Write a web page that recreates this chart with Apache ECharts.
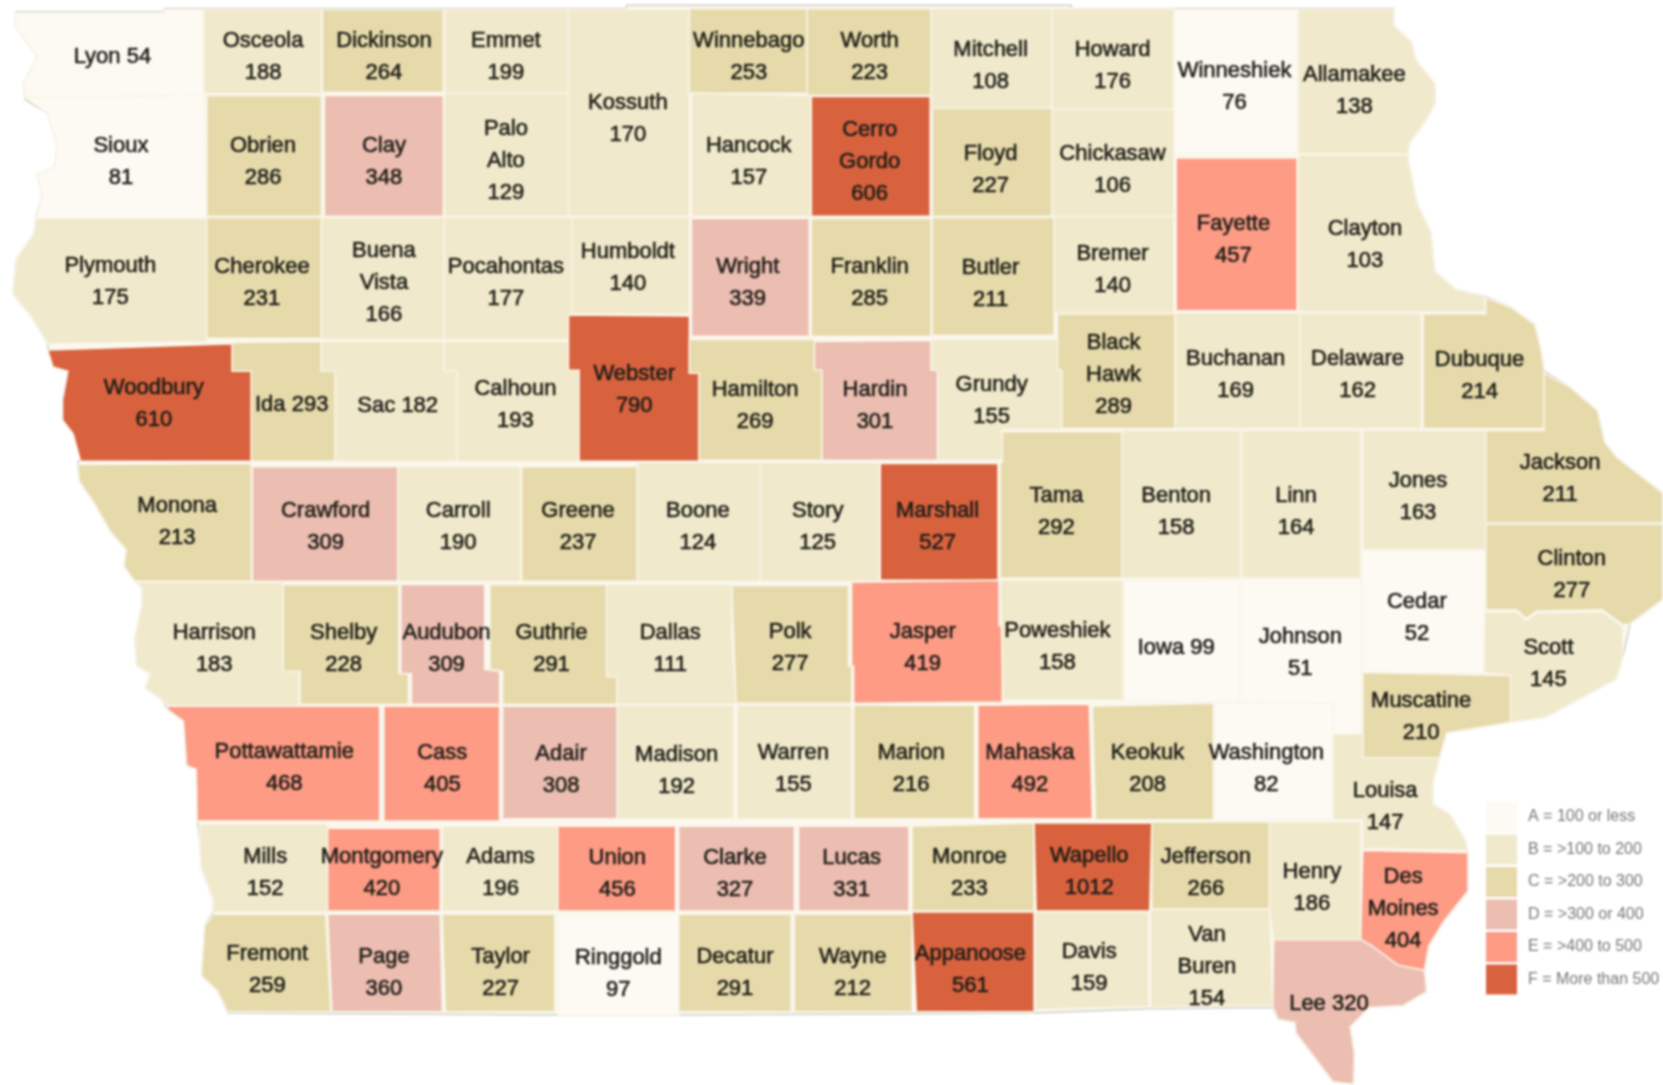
<!DOCTYPE html>
<html>
<head>
<meta charset="utf-8">
<title>Iowa counties</title>
<script src="https://cdn.jsdelivr.net/npm/echarts@6/dist/echarts.min.js"></script>
<style>
html, body { margin: 0; padding: 0; background: #fff; }
#main { width: 1663px; height: 1085px; }
/* the source picture is a soft upscaled image */
#main canvas { filter: blur(0.8px); }
</style>
</head>
<body>
<div id="main"></div>
<script>
var counties = ["Lyon","Osceola","Dickinson","Emmet","Kossuth","Winnebago","Worth","Mitchell","Howard","Winneshiek","Allamakee",
	"Sioux","Obrien","Clay","Palo Alto","Hancock","Cerro Gordo","Floyd","Chickasaw","Fayette","Clayton",
	"Plymouth","Cherokee","Buena Vista","Pocahontas","Humboldt","Wright","Franklin","Butler","Bremer","Black Hawk","Buchanan","Delaware","Dubuque",
	"Woodbury","Ida","Sac","Calhoun","Webster","Hamilton","Hardin","Grundy",
	"Monona","Crawford","Carroll","Greene","Boone","Story","Marshall","Tama","Benton","Linn","Jones","Jackson","Clinton","Cedar",
	"Harrison","Shelby","Audubon","Guthrie","Dallas","Polk","Jasper","Poweshiek","Iowa","Johnson","Scott","Muscatine",
	"Pottawattamie","Cass","Adair","Madison","Warren","Marion","Mahaska","Keokuk","Washington","Louisa",
	"Mills","Montgomery","Adams","Union","Clarke","Lucas","Monroe","Wapello","Jefferson","Henry","Des Moines",
	"Fremont","Page","Taylor","Ringgold","Decatur","Wayne","Appanoose","Davis","Van Buren","Lee"];
var countyValues = [54,188,264,199,170,253,223,108,176,76,138,
	81,286,348,129,157,606,227,106,457,103,
	175,231,166,177,140,339,285,211,140,289,169,162,214,
	610,293,182,193,790,269,301,155,
	213,309,190,237,124,125,527,292,158,164,163,211,277,52,
	183,228,309,291,111,277,419,158,99,51,145,210,
	468,405,308,192,155,216,492,208,82,147,
	152,420,196,456,327,331,233,1012,266,186,404,
	259,360,227,97,291,212,561,159,154,320];
var legendLabels = ["A = 100 or less","B = >100 to 200","C = >200 to 300","D = >300 or 400","E = >400 to 500","F = More than 500"];
var legendLimits = [100,200,300,400,500];
var legendColors = ["#fcfaf3","#f1e9cb","#e6daab","#ecbdb1","#fd9b85","#d9623e"];
// these print name and value on one line
var oneLine = ["Lyon","Ida","Sac","Iowa","Lee"];

// shapes, in 1568x1023 picture coordinates
var shapes = {
	"Lyon":[[15,12],[155,12],[155,9],[192,9],[192,90],[24,92],[22,79],[35,53],[14,24]],
	"Osceola":[[192,9],[303,9],[303,88],[192,88]],
	"Dickinson":[[304,9],[418,9],[418,87],[304,87]],
	"Emmet":[[419,9],[536,9],[536,88],[419,88]],
	"Kossuth":[[536,9],[650,9],[650,204],[536,204]],
	"Winnebago":[[650,8],[761,8],[761,88],[650,88]],
	"Worth":[[761,8],[878,8],[878,90],[761,90]],
	"Mitchell":[[878,8],[992,8],[992,102],[878,102]],
	"Howard":[[992,8],[1107,8],[1107,103],[992,103]],
	"Winneshiek":[[1107,9],[1223,9],[1223,145],[1107,145]],
	"Allamakee":[[1224,9],[1314,9],[1314,24],[1331,40],[1335,57],[1353,79],[1353,98],[1344,114],[1329,135],[1327,145],[1224,145]],
	"Sioux":[[24,92],[192,90],[195,206],[34,206],[40,185],[35,165],[52,157],[54,138],[45,107]],
	"Obrien":[[195,90],[303,90],[303,204],[195,204]],
	"Clay":[[306,90],[418,90],[418,204],[306,204]],
	"Palo Alto":[[419,88],[536,88],[536,204],[419,204]],
	"Hancock":[[652,88],[765,90],[765,204],[652,204]],
	"Cerro Gordo":[[765,91],[877,91],[877,204],[765,204]],
	"Floyd":[[879,102],[992,102],[992,204],[879,204]],
	"Chickasaw":[[992,103],[1107,103],[1107,204],[992,204]],
	"Fayette":[[1109,149],[1223,149],[1223,293],[1109,293]],
	"Clayton":[[1224,146],[1327,146],[1336,192],[1349,219],[1353,256],[1373,273],[1399,279],[1401,294],[1224,294]],
	"Plymouth":[[34,206],[195,206],[195,322],[45,324],[30,299],[12,277],[15,245],[32,220]],
	"Cherokee":[[195,205],[303,205],[303,319],[195,319]],
	"Buena Vista":[[303,205],[419,205],[419,320],[303,320]],
	"Pocahontas":[[419,205],[539,205],[539,297],[536,297],[536,320],[419,320]],
	"Humboldt":[[539,205],[650,205],[650,296],[539,296]],
	"Wright":[[652,206],[763,206],[763,317],[652,317]],
	"Franklin":[[765,206],[878,206],[878,317],[765,317]],
	"Butler":[[879,205],[994,205],[994,316],[879,316]],
	"Bremer":[[994,204],[1107,204],[1107,295],[994,295]],
	"Black Hawk":[[997,296],[1108,296],[1108,404],[1001,404],[1001,349],[997,349]],
	"Buchanan":[[1108,295],[1226,295],[1226,404],[1108,404]],
	"Delaware":[[1226,295],[1340,295],[1340,404],[1226,404]],
	"Dubuque":[[1342,296],[1401,296],[1401,281],[1425,290],[1447,306],[1453,330],[1456,350],[1456,404],[1342,404]],
	"Woodbury":[[45,330],[219,324],[219,350],[237,350],[237,435],[76,435],[69,409],[59,396],[59,377],[64,350],[50,346]],
	"Ida":[[219,323],[303,322],[303,350],[316,350],[316,435],[237,435],[237,350],[219,350]],
	"Sac":[[303,322],[419,322],[419,350],[431,350],[431,435],[316,435],[316,350],[303,350]],
	"Calhoun":[[419,322],[536,322],[536,349],[546,349],[546,435],[431,435],[431,350],[419,350]],
	"Webster":[[536,297],[650,298],[650,352],[659,352],[659,435],[546,435],[546,349],[536,349]],
	"Hamilton":[[650,320],[768,320],[768,349],[775,349],[775,434],[659,434],[659,352],[650,352]],
	"Hardin":[[768,322],[878,321],[878,349],[884,349],[884,434],[775,434],[775,349],[768,349]],
	"Grundy":[[878,320],[997,320],[997,349],[1001,349],[1001,405],[945,405],[945,434],[884,434],[884,349],[878,349]],
	"Monona":[[73,438],[237,437],[237,548],[127,548],[117,534],[119,518],[104,501],[90,476],[75,454]],
	"Crawford":[[238,440],[375,440],[375,548],[238,548]],
	"Carroll":[[375,440],[491,440],[491,548],[375,548]],
	"Greene":[[492,440],[601,440],[601,548],[492,548]],
	"Boone":[[601,436],[717,436],[717,548],[601,548]],
	"Story":[[717,436],[829,436],[829,548],[717,548]],
	"Marshall":[[830,437],[941,437],[941,547],[830,547]],
	"Tama":[[945,407],[1058,407],[1058,545],[943,545],[943,436],[945,436]],
	"Benton":[[1058,406],[1170,406],[1170,545],[1058,545]],
	"Linn":[[1171,406],[1283,406],[1283,545],[1171,545]],
	"Jones":[[1285,406],[1401,406],[1401,518],[1285,518]],
	"Jackson":[[1401,406],[1456,406],[1456,352],[1480,365],[1506,387],[1513,417],[1524,431],[1568,465],[1568,493],[1401,493]],
	"Clinton":[[1401,494],[1568,494],[1568,565],[1537,588],[1530,589],[1511,575],[1449,576],[1439,583],[1430,575],[1401,575]],
	"Cedar":[[1284,519],[1400,519],[1400,634],[1284,634]],
	"Harrison":[[127,549],[267,549],[267,633],[282,633],[282,666],[158,666],[153,660],[137,649],[142,635],[129,628],[127,602],[134,570],[134,554]],
	"Shelby":[[267,551],[376,551],[376,635],[385,635],[385,664],[283,664],[283,633],[267,633]],
	"Audubon":[[378,551],[457,551],[457,631],[471,633],[471,664],[388,664],[388,635],[378,635]],
	"Guthrie":[[462,551],[572,551],[572,637],[582,637],[582,664],[474,664],[474,633],[462,631]],
	"Dallas":[[572,551],[690,551],[690,600],[694,664],[582,664],[582,638],[572,638]],
	"Polk":[[690,552],[800,552],[800,628],[803,628],[803,663],[694,663]],
	"Jasper":[[803,549],[942,547],[942,590],[945,590],[945,662],[805,663],[805,628],[803,628]],
	"Poweshiek":[[943,547],[1059,547],[1059,660],[946,660]],
	"Iowa":[[1060,547],[1169,546],[1169,662],[1060,661]],
	"Johnson":[[1169,546],[1283,546],[1283,692],[1257,692],[1257,663],[1169,662]],
	"Scott":[[1400,577],[1430,577],[1439,585],[1449,578],[1511,577],[1530,591],[1530,620],[1524,640],[1458,676],[1424,681],[1424,637],[1399,634]],
	"Muscatine":[[1285,634],[1424,637],[1424,681],[1364,691],[1357,715],[1285,715]],
	"Pottawattamie":[[158,669],[158,666],[358,666],[358,774],[186,774],[185,725],[176,722],[173,680]],
	"Cass":[[362,666],[471,666],[471,774],[362,774]],
	"Adair":[[474,666],[582,666],[582,772],[474,772]],
	"Madison":[[582,665],[692,665],[692,772],[582,772]],
	"Warren":[[695,665],[803,665],[803,772],[695,772]],
	"Marion":[[805,665],[919,665],[919,772],[805,772]],
	"Mahaska":[[922,665],[1027,664],[1030,772],[922,772]],
	"Keokuk":[[1030,666],[1144,663],[1144,773],[1033,773]],
	"Washington":[[1145,663],[1257,663],[1257,773],[1145,773]],
	"Louisa":[[1257,692],[1285,692],[1285,715],[1357,715],[1351,738],[1351,758],[1367,768],[1381,791],[1384,802],[1285,800],[1285,773],[1257,773]],
	"Mills":[[188,777],[309,777],[309,860],[201,860],[201,848],[190,819],[188,790]],
	"Montgomery":[[309,781],[415,781],[415,859],[309,859]],
	"Adams":[[417,779],[526,779],[526,859],[417,859]],
	"Union":[[526,779],[637,779],[637,859],[526,859]],
	"Clarke":[[640,779],[749,779],[749,859],[640,859]],
	"Lucas":[[753,779],[857,779],[857,859],[753,859]],
	"Monroe":[[860,779],[975,776],[975,859],[860,859]],
	"Wapello":[[975,776],[1086,776],[1084,859],[977,859]],
	"Jefferson":[[1086,775],[1197,775],[1197,857],[1086,857]],
	"Henry":[[1197,775],[1283,775],[1283,886],[1201,886],[1197,857]],
	"Des Moines":[[1285,802],[1384,804],[1384,840],[1361,869],[1347,892],[1343,915],[1318,910],[1292,891],[1283,886]],
	"Fremont":[[201,862],[307,862],[312,954],[215,954],[205,934],[190,920],[193,873]],
	"Page":[[309,862],[415,862],[417,954],[313,954]],
	"Taylor":[[417,862],[523,862],[523,954],[420,954]],
	"Ringgold":[[526,862],[640,862],[640,957],[526,957]],
	"Decatur":[[640,862],[746,862],[746,954],[640,954]],
	"Wayne":[[749,862],[860,862],[860,954],[749,954]],
	"Appanoose":[[860,860],[975,860],[975,954],[864,954]],
	"Davis":[[976,860],[1083,860],[1083,949],[976,952]],
	"Van Buren":[[1085,857],[1197,857],[1200,948],[1085,950]],
	"Lee":[[1201,886],[1283,886],[1292,891],[1318,910],[1343,915],[1345,935],[1323,948],[1291,950],[1273,968],[1277,994],[1276,1022],[1257,1020],[1222,974],[1221,964],[1205,961],[1200,948]]
};

// where each county's label block is centred
var labelSpots = {
	"Lyon":[106,52],"Osceola":[248,52],"Dickinson":[362,52],"Emmet":[477,52],"Kossuth":[592,110],"Winnebago":[706,52],"Worth":[820,52],"Mitchell":[934,60],"Howard":[1049,60],"Winneshiek":[1164,80],"Allamakee":[1277,84],
	"Sioux":[114,151],"Obrien":[248,151],"Clay":[362,151],"Palo Alto":[477,150],"Hancock":[706,151],"Cerro Gordo":[820,151],"Floyd":[934,158],"Chickasaw":[1049,158],"Fayette":[1163,224],"Clayton":[1287,229],
	"Plymouth":[104,264],"Cherokee":[247,265],"Buena Vista":[362,265],"Pocahontas":[477,265],"Humboldt":[592,251],"Wright":[705,265],"Franklin":[820,265],"Butler":[934,266],"Bremer":[1049,253],"Black Hawk":[1050,352],"Buchanan":[1165,352],"Delaware":[1280,352],"Dubuque":[1395,353],
	"Woodbury":[145,379],"Ida":[275,380],"Sac":[375,381],"Calhoun":[486,380],"Webster":[598,366],"Hamilton":[712,381],"Hardin":[825,381],"Grundy":[935,376],
	"Monona":[167,490],"Crawford":[307,495],"Carroll":[432,495],"Greene":[545,495],"Boone":[658,495],"Story":[771,495],"Marshall":[884,495],"Tama":[996,481],"Benton":[1109,481],"Linn":[1222,481],"Jones":[1337,467],"Jackson":[1471,450],"Clinton":[1482,540],"Cedar":[1336,581],
	"Harrison":[202,610],"Shelby":[324,610],"Audubon":[421,610],"Guthrie":[520,610],"Dallas":[632,610],"Polk":[745,609],"Jasper":[870,609],"Poweshiek":[997,608],"Iowa":[1109,609],"Johnson":[1226,614],"Scott":[1460,624],"Muscatine":[1340,674],
	"Pottawattamie":[268,722],"Cass":[417,723],"Adair":[529,724],"Madison":[638,725],"Warren":[748,723],"Marion":[859,723],"Mahaska":[971,723],"Keokuk":[1082,723],"Washington":[1194,723],"Louisa":[1306,759],
	"Mills":[250,821],"Montgomery":[360,821],"Adams":[472,821],"Union":[582,822],"Clarke":[693,822],"Lucas":[803,822],"Monroe":[914,821],"Wapello":[1027,820],"Jefferson":[1137,821],"Henry":[1237,835],"Des Moines":[1323,855],
	"Fremont":[252,913],"Page":[362,915],"Taylor":[472,915],"Ringgold":[583,916],"Decatur":[693,915],"Wayne":[804,915],"Appanoose":[915,913],"Davis":[1027,911],"Van Buren":[1138,910],"Lee":[1253,945]
};

// grey line round the whole state
var stateEdge = [[15,11],[155,11],[155,8],[590,8],[591,5],[1010,5],[1010,8],[1314,8],[1314,24],[1331,40],[1335,57],[1353,79],[1353,98],[1344,114],[1329,135],[1327,146],[1336,192],[1349,219],[1353,256],[1373,273],[1399,279],[1425,290],[1447,306],[1453,330],[1456,350],[1480,365],[1506,387],[1513,417],[1524,431],[1568,465],[1568,565],[1537,588],[1530,620],[1524,640],[1458,676],[1424,681],[1364,691],[1357,715],[1351,738],[1351,758],[1367,768],[1381,791],[1384,804],[1384,840],[1361,869],[1347,892],[1343,915],[1345,935],[1323,948],[1291,950],[1273,968],[1277,994],[1276,1022],[1257,1020],[1222,974],[1221,964],[1205,961],[1200,950],[1084,951],[976,955],[640,957],[526,957],[215,955],[205,934],[190,920],[193,873],[201,860],[201,848],[190,819],[188,790],[186,774],[185,725],[176,722],[173,680],[158,669],[153,660],[137,649],[142,635],[129,628],[127,602],[134,570],[134,554],[127,548],[117,534],[119,518],[104,501],[90,476],[75,454],[73,438],[76,431],[69,409],[59,396],[59,377],[64,350],[50,346],[45,330],[45,324],[30,299],[12,277],[15,245],[32,220],[34,204],[40,185],[35,165],[52,157],[54,138],[45,107],[24,94],[22,79],[35,53],[14,24]];

function flip(ring) {
	// geojson latitude runs upwards, the picture runs downwards
	var out = ring.map(function(p) { return [p[0], -p[1]]; });
	out.push(out[0]);
	return out;
}

function polygonFeature(name, ring, cp) {
	return {
		type: "Feature",
		properties: cp ? { name: name, cp: [cp[0], -cp[1]] } : { name: name },
		geometry: { type: "Polygon", coordinates: [flip(ring)] }
	};
}

var features = counties.map(function(name) {
	return polygonFeature(name, shapes[name], labelSpots[name]);
});
echarts.registerMap("iowa", { type: "FeatureCollection", features: features });
echarts.registerMap("iowaEdge", { type: "FeatureCollection", features: [polygonFeature("edge", stateEdge)] });

var pieces = legendLabels.map(function(label, i) {
	var piece = { label: label, color: legendColors[i] };
	if (i > 0) piece.gt = legendLimits[i - 1];
	if (i < legendLimits.length) piece.lte = legendLimits[i];
	return piece;
});

var seriesData = counties.map(function(name, i) {
	return { name: name, value: countyValues[i] };
});

var bounds = [[0, 0], [1568, -1023]];
var chart = echarts.init(document.getElementById("main"));
chart.setOption({
	animation: false,
	backgroundColor: "#fff",
	visualMap: {
		type: "piecewise",
		seriesIndex: 0,
		pieces: pieces,
		inverse: true,
		selectedMode: false,
		align: "left",
		padding: 0,
		left: 1486,
		top: 802,
		itemWidth: 31,
		itemHeight: 30,
		itemGap: 2.5,
		itemSymbol: "rect",
		textGap: 11,
		textStyle: { color: "#777", fontFamily: "Liberation Sans", fontSize: 16 }
	},
	geo: {
		map: "iowaEdge",
		silent: true,
		z: 0,
		aspectScale: 1,
		boundingCoords: bounds,
		left: 0, top: 0, width: 1663, height: 1085,
		label: { show: false },
		itemStyle: { areaColor: "#fbf8ef", borderColor: "#cfcfc8", borderWidth: 1.5 }
	},
	series: [{
		type: "map",
		map: "iowa",
		silent: true,
		aspectScale: 1,
		boundingCoords: bounds,
		left: 0, top: 0, width: 1663, height: 1085,
		data: seriesData,
		itemStyle: { borderColor: "#f9f5e8", borderWidth: 1.5 },
		label: {
			show: true,
			fontFamily: "Liberation Sans",
			fontSize: 22,
			lineHeight: 32,
			offset: [0, 2],
			color: "#1e1e18",
			textBorderColor: "#1e1e18",
			textBorderWidth: 0.6,
			formatter: function(p) {
				if (oneLine.indexOf(p.name) >= 0) return p.name + " " + p.value;
				return p.name.replace(" ", "\n") + "\n" + p.value;
			}
		}
	}]
});
</script>
</body>
</html>
